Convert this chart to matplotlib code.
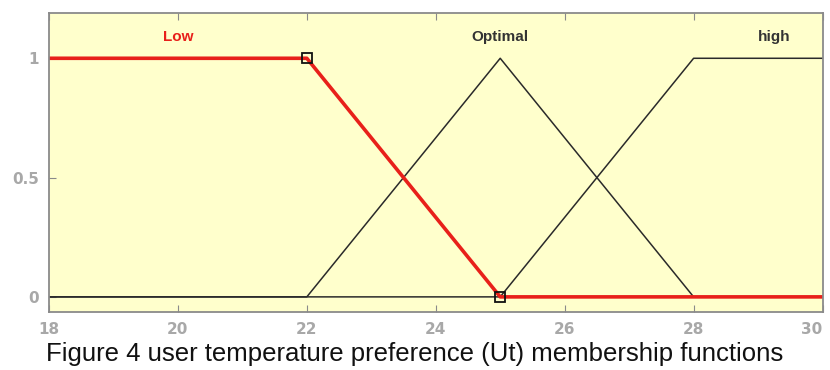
import matplotlib
matplotlib.use("Agg")
import matplotlib.pyplot as plt

x_low = [18, 22, 25, 30]
y_low = [1, 1, 0, 0]
x_opt = [18, 22, 25, 28, 30]
y_opt = [0, 0, 1, 0, 0]
x_high = [18, 25, 28, 30]
y_high = [0, 0, 1, 1]
marker_x = [22, 25]
marker_y = [1, 0]
labels = ["Low", "Optimal", "high"]
label_x = [20, 25, 29.25]
xticks = [18, 20, 22, 24, 26, 28, 30]
yticks = [0, 0.5, 1]
ytick_labels = ["0", "0.5", "1"]
caption = "Figure 4 user temperature preference (Ut) membership functions"

fig = plt.figure(figsize=(8.3, 3.7), dpi=100)
ax = fig.add_axes([0.059, 0.157, 0.932, 0.808])
ax.set_facecolor("#FFFFCC")

ax.plot(x_opt, y_opt, color="#2a2a2a", lw=1.1)
ax.plot(x_high, y_high, color="#2a2a2a", lw=1.1)
ax.plot(x_low, y_low, color="#e8201a", lw=2.6)
ax.plot(marker_x, marker_y, ls="none", marker="s", ms=7, mfc="none",
        mec="#111111", mew=1.3)

label_colors = ["#e8201a", "#333333", "#333333"]
for t, xv, c in zip(labels, label_x, label_colors):
    ax.text(xv, 1.09, t, color=c, ha="center", va="center", fontsize=11,
            fontweight="bold", family="Liberation Sans")

ax.set_xlim(18, 30)
ax.set_ylim(-0.063, 1.19)
ax.set_xticks(xticks)
ax.set_xticklabels([str(v) for v in xticks])
ax.set_yticks(yticks)
ax.set_yticklabels(ytick_labels)
ax.tick_params(direction="in", colors="#8a8a8a", labelcolor="#a8a8a8",
               labelsize=11, top=True, length=5)
ax.tick_params(axis="x", pad=7)
ax.tick_params(axis="y", pad=7)
for lbl in ax.get_xticklabels() + ax.get_yticklabels():
    lbl.set_fontweight("bold")
ax.get_xticklabels()[-1].set_horizontalalignment("right")

for s in ax.spines.values():
    s.set_color("#8a8a8a")
    s.set_linewidth(1.3)

fig.text(0.5, 0.042, caption, ha="center", va="center", fontsize=18.5,
         family="Liberation Sans", color="#111111")

fig.savefig("out.png", dpi=100)
